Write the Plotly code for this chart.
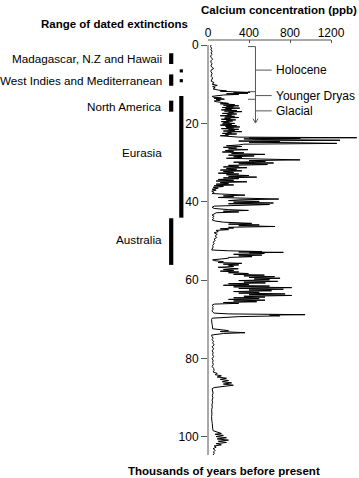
import plotly.graph_objects as go

# ---- Data ----
age_kyr = [
    0.0, 0.4, 0.8, 1.2, 1.6, 2.0, 2.4, 2.8, 3.2, 3.6, 4.0, 4.4, 4.8, 5.2, 5.6, 6.0, 6.4, 6.8, 7.2, 7.6,
    8.0, 8.4, 8.8, 9.2, 9.6, 10.0, 10.3, 10.6, 10.9, 11.2, 11.5,
    11.7, 11.8, 11.9, 12.0, 12.1, 12.2, 12.3, 12.45, 12.6, 12.75, 12.9, 13.1, 13.3, 13.5, 13.6, 13.8, 13.9,
    14.1, 14.3, 14.5, 14.7,
    14.9, 15.0, 15.2, 15.35, 15.5, 15.65, 15.8, 15.95, 16.1, 16.25, 16.4, 16.55, 16.7, 16.85, 17.0, 17.15,
    17.3, 17.45, 17.6, 17.75, 17.9, 18.05, 18.2, 18.35, 18.5, 18.65, 18.8, 18.95, 19.1, 19.25, 19.4, 19.55,
    19.7, 19.85, 20.0, 20.15, 20.3, 20.45, 20.6, 20.75, 20.9, 21.05, 21.2, 21.35, 21.5, 21.65, 21.8, 21.95,
    22.1, 22.25, 22.4, 22.55, 22.7, 22.85, 23.0, 23.15, 23.3,
    23.5, 23.65, 23.75, 23.85, 23.95, 24.1, 24.3, 24.4, 24.5, 24.65, 24.8, 24.95, 25.1, 25.3,
    25.5, 25.7, 25.9, 26.1, 26.3, 26.5, 26.7, 26.9, 27.1, 27.3, 27.5, 27.7, 27.9, 28.1, 28.3, 28.5, 28.7,
    28.9, 29.1, 29.3, 29.5, 29.7, 29.9, 30.1, 30.3, 30.5, 30.7, 30.9, 31.1, 31.3, 31.5, 31.7, 31.9, 32.1,
    32.3, 32.5, 32.7, 32.9, 33.1, 33.3, 33.5, 33.7, 33.9, 34.1, 34.3, 34.5, 34.7, 34.9, 35.1, 35.3, 35.5,
    35.7, 35.9, 36.1, 36.3, 36.5, 36.8, 37.0, 37.3, 37.6, 37.9, 38.1, 38.3, 38.5, 38.7, 38.9, 39.1, 39.3,
    39.5, 39.7, 39.9, 40.1, 40.3, 40.5, 40.7, 40.9, 41.1, 41.4, 41.7, 42.0, 42.2, 42.4, 42.6, 42.8, 43.1,
    43.4, 43.7, 44.0, 44.3, 44.6, 44.9, 45.2, 45.5, 45.7, 45.9, 46.1, 46.3, 46.5, 46.7, 46.9, 47.1, 47.3,
    47.6, 47.9, 48.3, 48.7, 49.1, 49.5, 49.9, 50.3, 50.7, 51.1, 51.5, 51.9, 52.3,
    52.5, 52.7, 52.8, 52.9, 53.0, 53.2, 53.4, 53.6, 53.8, 54.0, 54.2, 54.4, 54.6, 54.8, 55.0, 55.3, 55.5,
    55.7, 55.9, 56.1, 56.3, 56.5, 56.7, 56.9, 57.1, 57.3, 57.5, 57.7, 57.9, 58.1, 58.3, 58.5, 58.7, 58.9,
    59.1, 59.3, 59.5, 59.7, 59.9, 60.1, 60.3, 60.5, 60.7, 60.9, 61.1, 61.3, 61.5, 61.7, 61.9, 62.1, 62.3,
    62.5, 62.7, 62.9, 63.1, 63.3, 63.5, 63.7, 63.9, 64.1, 64.3, 64.5, 64.7, 64.9, 65.1, 65.3, 65.5, 65.7,
    65.9, 66.1, 66.4, 66.7, 67.0, 67.4, 67.8, 68.1, 68.4, 68.6, 68.8, 68.9, 69.1, 69.3, 69.5, 69.7, 70.0,
    70.5, 71.0, 71.5, 72.0, 72.4, 72.7, 72.9, 73.1, 73.4, 73.6, 73.8, 74.0, 74.4, 74.8, 75.2, 75.6, 76.0,
    76.5, 77.0, 77.5, 78.0, 78.5, 79.0, 79.5, 80.0, 80.5, 81.0, 81.5, 82.0, 82.5, 83.0, 83.4, 83.8, 84.1,
    84.4, 84.7, 85.0, 85.3, 85.6, 85.9, 86.2, 86.5, 86.8, 87.1, 87.4, 87.7, 88.2, 88.8, 89.4, 90.0, 90.6,
    91.2, 91.8, 92.4, 93.0, 93.6, 94.2, 94.8, 95.4, 96.0, 96.6, 97.2, 97.8, 98.4, 98.8, 99.1, 99.3, 99.6,
    99.9, 100.2, 100.5, 100.8, 101.1, 101.4, 101.7, 102.0, 102.3, 102.6, 103.0, 103.4, 103.8, 104.2, 104.6,
]

calcium_ppb = [
    30, 25, 35, 28, 40, 30, 38, 25, 32, 45, 30, 28, 40, 30, 35, 55, 30, 28, 40, 32,
    30, 45, 35, 30, 60, 40, 90, 45, 70, 50, 100,
    180, 120, 330, 200, 410, 250, 390, 180, 300, 150, 60, 40, 50, 130, 60, 160, 80,
    120, 60, 90, 150,
    200, 120, 260, 150, 300, 180, 250, 140, 310, 170, 230, 130, 280, 160, 330, 200,
    250, 140, 280, 190, 230, 120, 260, 170, 300, 160, 220, 130, 270, 180, 240, 130,
    210, 150, 260, 140, 230, 120, 280, 170, 310, 180, 250, 130, 300, 200, 260, 150,
    330, 190, 230, 140, 280, 170, 200, 120, 170,
    300, 1451, 400, 900, 350, 500, 1288, 600, 300, 700, 400, 900, 1256, 350,
    300, 180, 330, 150, 280, 200, 390, 170, 250, 140, 350, 230, 556, 200, 450, 250, 330,
    180, 500, 898, 400, 560, 250, 640, 300, 580, 200, 300, 150, 380, 180, 280, 120, 330,
    150, 250, 100, 300, 180, 400, 200, 475, 150, 300, 100, 250, 80, 380, 120, 200, 80,
    250, 60, 150, 50, 100, 40, 80, 36, 60, 40, 200, 361, 150, 250, 100, 450, 690,
    300, 200, 500, 250, 638, 200, 600, 100, 60, 40, 60, 200, 394, 150, 300, 80, 50,
    40, 60, 45, 55, 40, 70, 150, 426, 200, 500, 300, 654, 200, 250, 120, 200, 80,
    100, 60, 90, 70, 85, 60, 70, 50, 60, 45, 50, 40, 36,
    200, 526, 300, 735, 400, 550, 250, 526, 300, 430, 200, 200, 80, 45, 60, 150, 100,
    330, 150, 300, 200, 250, 100, 200, 296, 150, 250, 120, 300, 200, 394, 250, 550, 350,
    650, 400, 703, 450, 600, 300, 680, 350, 560, 200, 400, 150, 600, 250, 816, 300, 735,
    400, 620, 250, 500, 300, 752, 400, 816, 350, 556, 250, 500, 200, 556, 250, 475, 150,
    300, 60, 40, 52, 45, 50, 40, 45, 60, 200, 947, 600, 700, 300, 100, 40, 35,
    40, 38, 42, 40, 45, 150, 200, 120, 361, 150, 60, 35, 40, 50, 38, 55, 45,
    60, 40, 55, 42, 50, 45, 55, 40, 50, 45, 52, 40, 55, 60, 50, 90, 70,
    130, 90, 180, 120, 200, 140, 230, 150, 247, 120, 60, 40, 45, 50, 42, 48, 40,
    45, 38, 42, 36, 40, 38, 35, 40, 38, 42, 40, 45, 50, 90, 130, 70, 150,
    80, 180, 90, 200, 100, 180, 80, 130, 60, 80, 50, 70, 55, 60, 50,
]

x_ticks = [0, 400, 800, 1200]
y_ticks = [0, 20, 40, 60, 80, 100]

# extinction ranges (kyr before present)
ext_labels = ["Madagascar, N.Z and Hawaii", "West Indies and Mediterranean",
              "North America", "Eurasia", "Australia"]
ext_label_age = [3.5, 9.0, 15.6, 27.5, 49.5]
ext_start = [2.1, 7.5, 14.2, 13.0, 44.2]
ext_end = [4.85, 10.4, 17.0, 44.05, 56.1]
ext_column = [0, 0, 0, 1, 0]
dot_start = [6.2, 8.7]
dot_end = [7.0, 9.5]

period_labels = ["Holocene", "Younger Dryas", "Glacial"]
period_label_age = [6.4, 12.9, 16.8]
period_bounds = [0.4, 11.9, 13.85]
arrow_end = 19.9

FONT = "Liberation Sans, Arial, Helvetica, sans-serif"
AX = "#555555"

fig = go.Figure()
fig.add_trace(go.Scatter(x=calcium_ppb, y=age_kyr, mode="lines",
                         line=dict(color="black", width=1), hoverinfo="skip"))

W, H = 359, 478
L, R, T, B = 208, 0, 40, 23
plot_w = W - L - R
XMAX = 1473
Y0 = -1.28
Y1 = 104.6

shapes = []
shapes.append(dict(type="line", xref="x", yref="paper", x0=0, x1=1200, y0=1, y1=1,
                   line=dict(color=AX, width=1)))
shapes.append(dict(type="line", xref="paper", yref="y", x0=0, x1=0, y0=0, y1=Y1,
                   line=dict(color=AX, width=1)))

col_px = [171.2, 181.3]
bar_w = 4.2
for s, e, c in zip(ext_start, ext_end, ext_column):
    cx = (col_px[c] - L) / plot_w
    hw = bar_w / 2 / plot_w
    shapes.append(dict(type="rect", xref="paper", yref="y", x0=cx - hw, x1=cx + hw,
                       y0=s, y1=e, fillcolor="black", line=dict(width=0)))
for s, e in zip(dot_start, dot_end):
    cx = (col_px[1] - L) / plot_w
    hw = 3.2 / 2 / plot_w
    shapes.append(dict(type="rect", xref="paper", yref="y", x0=cx - hw, x1=cx + hw,
                       y0=s, y1=e, fillcolor="black", line=dict(width=0)))

BX = 463
shapes.append(dict(type="line", xref="x", yref="y", x0=BX, x1=BX, y0=period_bounds[0], y1=arrow_end,
                   line=dict(color=AX, width=1)))
for b in period_bounds:
    shapes.append(dict(type="line", xref="x", yref="y", x0=390, x1=BX, y0=b, y1=b,
                       line=dict(color=AX, width=1)))
for a in period_label_age:
    shapes.append(dict(type="line", xref="x", yref="y", x0=BX, x1=621, y0=a, y1=a,
                       line=dict(color=AX, width=1)))
shapes.append(dict(type="path", xref="x", yref="y",
                   path=f"M {BX-24},{arrow_end-1.1} L {BX},{arrow_end} L {BX+24},{arrow_end-1.1}",
                   line=dict(color=AX, width=1)))

annotations = []
for lab, a in zip(ext_labels, ext_label_age):
    annotations.append(dict(text=lab, xref="paper", yref="y", x=(164 - L) / plot_w, y=a,
                            xanchor="right", yanchor="middle", showarrow=False,
                            font=dict(size=11.7, color="black", family=FONT)))
for lab, a in zip(period_labels, period_label_age):
    annotations.append(dict(text=lab, xref="x", yref="y", x=644, y=a,
                            xanchor="left", yanchor="middle", showarrow=False,
                            font=dict(size=12, color="black", family=FONT)))

annotations.append(dict(text="<b>Calcium concentration (ppb)</b>", xref="paper", yref="paper",
                        x=(279 - L) / plot_w, y=1, yshift=30, xanchor="center", yanchor="middle",
                        showarrow=False, font=dict(size=11.5, color="black", family=FONT)))
annotations.append(dict(text="<b>Range of dated extinctions</b>", xref="paper", yref="paper",
                        x=(114 - L) / plot_w, y=1, yshift=16, xanchor="center", yanchor="middle",
                        showarrow=False, font=dict(size=11.5, color="black", family=FONT)))
annotations.append(dict(text="<b>Thousands of years before present</b>", xref="paper", yref="paper",
                        x=(224 - L) / plot_w, y=0, yshift=-16, xanchor="center", yanchor="middle",
                        showarrow=False, font=dict(size=11.5, color="black", family=FONT)))

fig.update_layout(
    width=W, height=H,
    margin=dict(l=L, r=R, t=T, b=B, pad=0),
    paper_bgcolor="white", plot_bgcolor="white",
    showlegend=False,
    font=dict(family=FONT, size=12, color="black"),
    xaxis=dict(side="top", range=[0, XMAX], tickvals=x_ticks, ticktext=[str(v) for v in x_ticks],
               showgrid=False, zeroline=False, showline=False, ticks="inside", ticklen=3,
               tickcolor=AX, tickfont=dict(size=12, family=FONT, color="black")),
    yaxis=dict(range=[Y1, Y0], tickvals=y_ticks, ticktext=[str(v) for v in y_ticks],
               showgrid=False, zeroline=False, showline=False, ticks="outside", ticklen=6,
               tickcolor=AX, tickfont=dict(size=12, family=FONT, color="black")),
    shapes=shapes, annotations=annotations,
)

fig.write_html("out.html", config={"displayModeBar": False},
               post_script="document.body.style.margin='0';")
